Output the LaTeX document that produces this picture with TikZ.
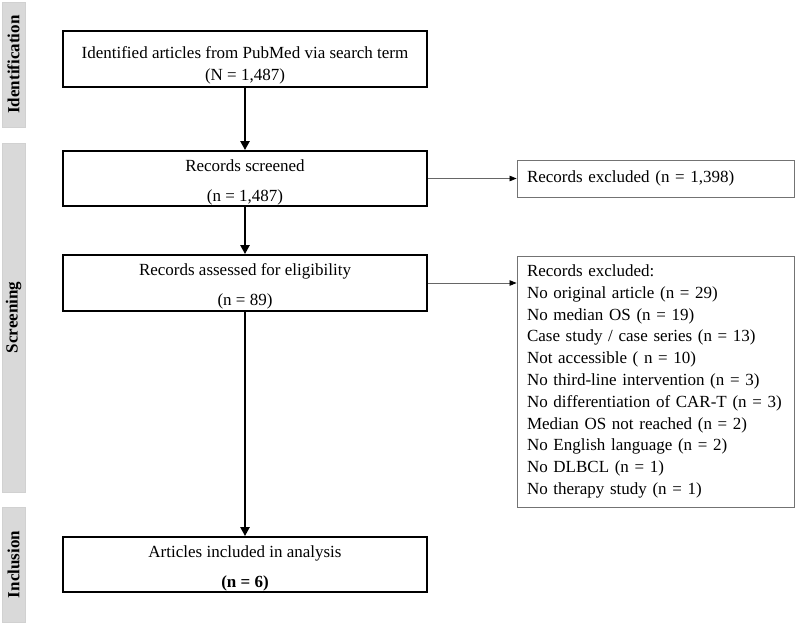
\documentclass[tikz,border=0pt]{standalone}
\usepackage{fontspec}
\setmainfont{Liberation Serif}
\usetikzlibrary{arrows.meta}

\begin{document}
\begin{tikzpicture}[x=1pt, y=-1pt,
			every node/.style={font=\fontsize{17}{21.8}\selectfont, inner sep=0},
			mainbox/.style={draw, line width=1.8pt, minimum width=364pt, minimum height=55pt, align=center},
			exclbox/.style={draw=black!55, line width=0.9pt, minimum width=277pt, text width=257pt, inner xsep=10pt, align=left},
			phase/.style={draw=black!18, fill=black!15, line width=0.8pt, minimum height=23pt, rotate=90, font=\fontsize{17}{20}\selectfont\bfseries},
			down/.style={-{Triangle[length=9pt,width=9pt]}, line width=2.8pt},
			side/.style={-{Triangle[length=7pt,width=5.5pt,black]}, draw=black!60, line width=0.8pt},
		]
		\useasboundingbox (0,0) rectangle (797,624);
		\node[phase, minimum width=125pt] (ph1) at (13.5,64.5) {Identification};
		\node[phase, minimum width=349pt] (ph2) at (13.5,317.5) {Screening};
		\node[phase, minimum width=115pt] (ph3) at (13.5,564.5) {Inclusion};
		\node[mainbox, minimum height=56pt] (ident) at (245,59) {\rule{0pt}{25pt}Identified articles from PubMed via search term\\(N = 1,487)};
		\node[mainbox] (screen) at (245,178.5) {\rule{0pt}{19pt}Records screened\\[8pt](n = 1,487)};
		\node[mainbox, minimum height=56pt] (assess) at (245,283) {\rule{0pt}{19pt}Records assessed for eligibility\\[8pt](n = 89)};
		\node[mainbox] (incl) at (245,564.5) {\rule{0pt}{19pt}Articles included in analysis\\[8pt]\textbf{(n = 6)}};
		\node[exclbox, minimum height=37pt] (excl1) at (655.5,178.5) {Records excluded (n = 1,398)};
		\node[exclbox, minimum height=251pt] (excl2) at (655.5,381.5) {Records excluded:\\
			No original article (n = 29)\\
			No median OS (n = 19)\\
			Case study / case series (n = 13)\\
			Not accessible ( n = 10)\\
			No third-line intervention (n = 3)\\
			No differentiation of CAR-T (n = 3)\\
			Median OS not reached (n = 2)\\
			No English language (n = 2)\\
			No DLBCL (n = 1)\\
			No therapy study (n = 1)};
		\draw[down] (ident) -- (screen);
		\draw[down] (screen) -- (assess);
		\draw[down] (assess) -- (incl);
		\draw[side] (screen) -- (excl1);
		\draw[side] (assess.east) -- (assess.east -| excl2.west);
\end{tikzpicture}
\end{document}
